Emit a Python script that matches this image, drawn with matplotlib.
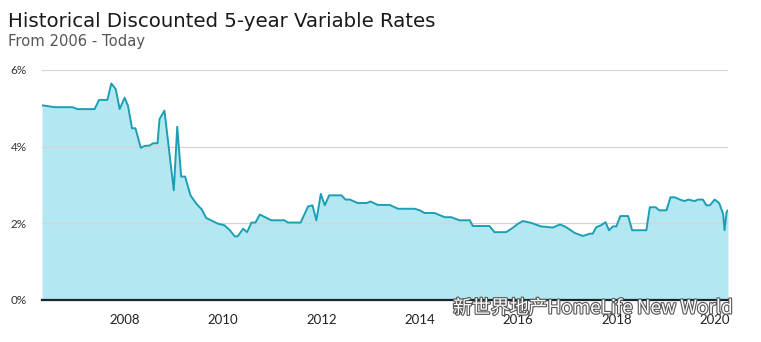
import matplotlib
matplotlib.use("Agg")
import matplotlib.pyplot as plt
import matplotlib.patheffects as pe

# ---- data (decimal year, rate in %) ----
years = [2006.32, 2006.58, 2006.94, 2007.04, 2007.39, 2007.48, 2007.65, 2007.73, 2007.82, 2007.90,
         2008.00, 2008.07, 2008.15, 2008.22, 2008.33, 2008.41, 2008.51, 2008.58, 2008.67, 2008.71,
         2008.81, 2009.00, 2009.07, 2009.15, 2009.23, 2009.34, 2009.46, 2009.57, 2009.66, 2009.90,
         2010.03, 2010.14, 2010.24, 2010.30, 2010.41, 2010.49, 2010.58, 2010.66, 2010.75, 2010.98,
         2011.25, 2011.32, 2011.58, 2011.73, 2011.82, 2011.90, 2011.99, 2012.07, 2012.16, 2012.41,
         2012.49, 2012.58, 2012.74, 2012.92, 2013.00, 2013.15, 2013.39, 2013.56, 2013.90, 2014.00,
         2014.10, 2014.30, 2014.51, 2014.64, 2014.81, 2015.02, 2015.08, 2015.42, 2015.52, 2015.76,
         2015.90, 2016.00, 2016.10, 2016.27, 2016.47, 2016.71, 2016.85, 2016.95, 2017.05, 2017.15,
         2017.32, 2017.46, 2017.52, 2017.59, 2017.69, 2017.78, 2017.85, 2017.93, 2018.00, 2018.08,
         2018.24, 2018.32, 2018.61, 2018.68, 2018.80, 2018.87, 2019.02, 2019.10, 2019.19, 2019.29,
         2019.39, 2019.46, 2019.59, 2019.66, 2019.76, 2019.83, 2019.90, 2020.00, 2020.09, 2020.17,
         2020.20, 2020.24, 2020.27]
rates = [5.08, 5.03, 5.03, 4.98, 4.98, 5.22, 5.22, 5.65, 5.50, 4.98,
         5.28, 5.06, 4.48, 4.48, 3.97, 4.02, 4.03, 4.09, 4.09, 4.72,
         4.94, 2.86, 4.52, 3.22, 3.22, 2.73, 2.51, 2.36, 2.14, 1.99,
         1.95, 1.82, 1.66, 1.66, 1.86, 1.77, 2.02, 2.02, 2.23, 2.08,
         2.08, 2.02, 2.02, 2.44, 2.47, 2.08, 2.77, 2.47, 2.73, 2.73,
         2.62, 2.62, 2.53, 2.53, 2.57, 2.48, 2.48, 2.38, 2.38, 2.34,
         2.27, 2.27, 2.16, 2.16, 2.08, 2.08, 1.93, 1.93, 1.77, 1.77,
         1.89, 1.99, 2.06, 2.01, 1.92, 1.89, 1.97, 1.92, 1.84, 1.75,
         1.67, 1.73, 1.73, 1.90, 1.95, 2.03, 1.82, 1.92, 1.92, 2.19,
         2.19, 1.82, 1.82, 2.42, 2.42, 2.34, 2.34, 2.68, 2.68, 2.62,
         2.58, 2.62, 2.58, 2.62, 2.62, 2.47, 2.47, 2.62, 2.53, 2.25,
         1.82, 2.29, 2.34]
x_ticks = [2008, 2010, 2012, 2014, 2016, 2018, 2020]
y_ticks = [0, 2, 4, 6]
title = "Historical Discounted 5-year Variable Rates"
subtitle = "From 2006 - Today"
watermark = "新世界地产HomeLife New World"

plt.rcParams['font.family'] = ['Lato', 'DejaVu Sans']

W, H = 761, 342
fig = plt.figure(figsize=(W / 100, H / 100), dpi=100)
ax = fig.add_axes([42 / W, 1 - 300 / H, (728 - 42) / W, (300 - 70) / H])

ax.fill_between(years, rates, 0, color="#b3e7f1", lw=0)
ax.plot(years, rates, color="#1c9fb4", lw=1.4)

ax.set_xlim(years[0], years[-1])
ax.set_ylim(0, 6)
ax.set_yticks(y_ticks)
ax.set_yticklabels([f"{v}%" for v in y_ticks], fontsize=8.5, color="#333333")
ax.set_xticks(x_ticks)
ax.set_xticklabels([str(v) for v in x_ticks], fontsize=9.5, color="#222222")
ax.tick_params(axis="y", length=0, pad=11)
ax.tick_params(axis="x", length=0, pad=10)
ax.grid(axis="y", color="#d4d4d4", lw=0.9)
for s in ["top", "right", "left"]:
    ax.spines[s].set_visible(False)
ax.spines["bottom"].set_color("#1b2430")
ax.spines["bottom"].set_linewidth(1.6)
ax.spines["bottom"].set_zorder(5)
for gl in ax.get_ygridlines():
    gl.set_zorder(0.5)

fig.text(8 / W, 1 - 27 / H, title, fontsize=14.2, color="#1a1a1a", ha="left", va="baseline",
         family=['DejaVu Sans'])
fig.text(8 / W, 1 - 46 / H, subtitle, fontsize=10.6, color="#555555", ha="left", va="baseline",
         family=['DejaVu Sans'])

fig.text(453 / W, 1 - 308 / H, watermark, fontsize=13.6, color="white", ha="left", va="center",
         family=['Noto Sans CJK SC', 'DejaVu Sans'],
         path_effects=[pe.withStroke(linewidth=1.6, foreground="#555555")], zorder=10)

fig.savefig("out.png", dpi=100, facecolor="white")
